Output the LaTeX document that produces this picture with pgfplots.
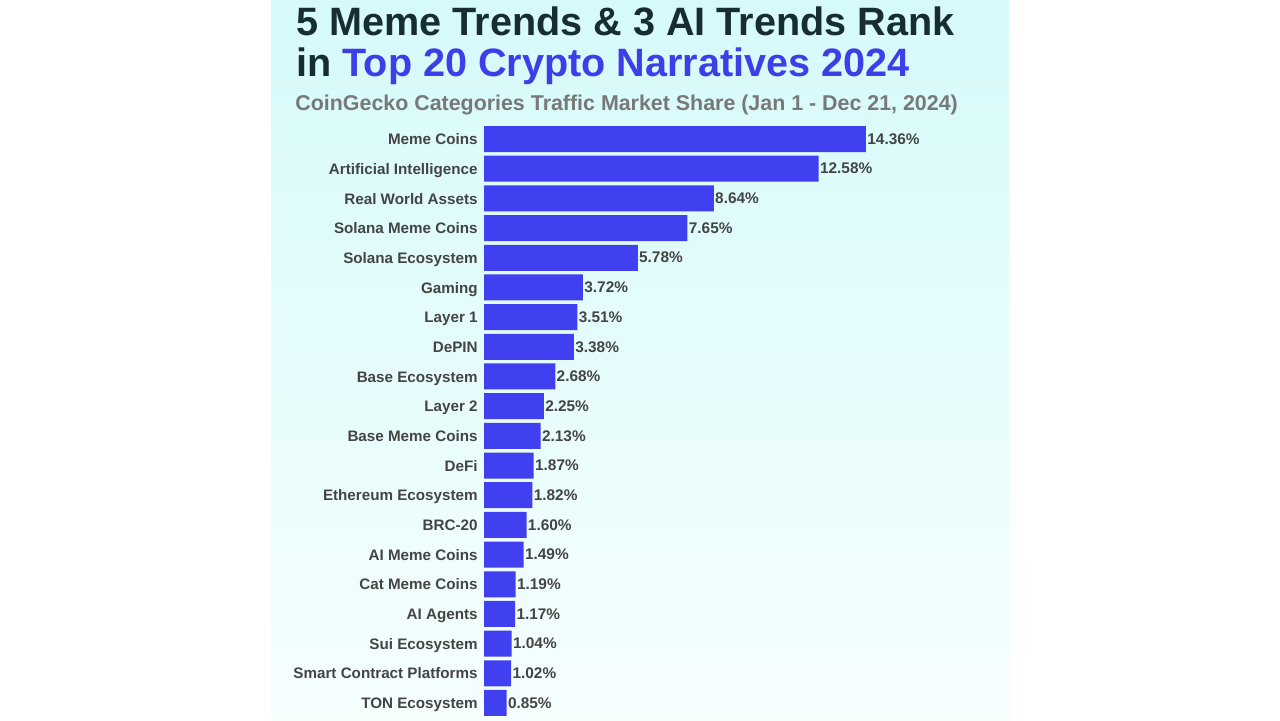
\documentclass[border=0pt]{standalone}
\usepackage{pgfplots}
\pgfplotsset{compat=1.18}
\usepackage{fontspec}
\setmainfont{Liberation Sans}
\definecolor{barblue}{RGB}{64,64,240}
\definecolor{titledark}{RGB}{24,44,52}
\definecolor{titleblue}{RGB}{62,62,232}
\definecolor{subgray}{RGB}{120,120,120}
\definecolor{labgray}{RGB}{68,68,68}
\definecolor{bgtop}{RGB}{214,250,250}
\definecolor{bgbot}{RGB}{246,254,254}
\begin{document}
\begin{tikzpicture}[x=1pt,y=1pt]
\fill[white] (0,0) rectangle (640,360);
\shade[top color=bgtop,bottom color=bgbot] (135.5,0) rectangle (504.5,360);
\node[anchor=base west,inner sep=0,font=\bfseries\fontsize{19.8}{20}\selectfont,text=titledark] at (148,342.5) {5 Meme Trends \& 3 AI Trends Rank};
\node[anchor=base west,inner sep=0,font=\bfseries\fontsize{19.8}{20}\selectfont,text=titledark] at (148,322) {in \textcolor{titleblue}{Top 20 Crypto Narratives 2024}};
\node[anchor=base west,inner sep=0,font=\bfseries\fontsize{10.7}{11}\selectfont,text=subgray] at (147.5,305) {CoinGecko Categories Traffic Market Share (Jan 1 - Dec 21, 2024)};
\begin{axis}[
  at={(242pt,1.1pt)}, anchor=south west,
  scale only axis, width=266pt, height=296.8pt,
  xbar, bar width=13pt,
  xmin=0, xmax=20, ymin=0.5, ymax=20.5, y dir=reverse,
  axis line style={draw=none}, xtick=\empty,
  ytick={1,...,20}, tick style={draw=none},
  yticklabels={Meme Coins,Artificial Intelligence,Real World Assets,Solana Meme Coins,Solana Ecosystem,Gaming,Layer 1,DePIN,Base Ecosystem,Layer 2,Base Meme Coins,DeFi,Ethereum Ecosystem,BRC-20,AI Meme Coins,Cat Meme Coins,AI Agents,Sui Ecosystem,Smart Contract Platforms,TON Ecosystem},
  yticklabel style={font=\bfseries\fontsize{7.6}{8}\selectfont,text=labgray,anchor=east,text height=5.6pt,text depth=1.6pt,inner sep=0pt,xshift=-3pt,yshift=-0.8pt},
  major tick length=0pt,
  /pgf/number format/assume math mode=true,
  nodes near coords={\pgfmathprintnumber[fixed,fixed zerofill,precision=2,assume math mode=true]{\pgfplotspointmeta}\%},
  nodes near coords style={font=\bfseries\fontsize{7.7}{8}\selectfont,text=labgray,anchor=west,inner sep=0.5pt,text height=5.6pt,text depth=1.6pt,yshift=-0.6pt},
  point meta=x,
  clip=false,
]
\addplot[fill=barblue,draw=none] coordinates {
(14.36,1) (12.58,2) (8.64,3) (7.65,4) (5.78,5) (3.72,6) (3.51,7) (3.38,8) (2.68,9) (2.25,10)
(2.13,11) (1.87,12) (1.82,13) (1.60,14) (1.49,15) (1.19,16) (1.17,17) (1.04,18) (1.02,19) (0.85,20)};
\end{axis}
\end{tikzpicture}
\end{document}
